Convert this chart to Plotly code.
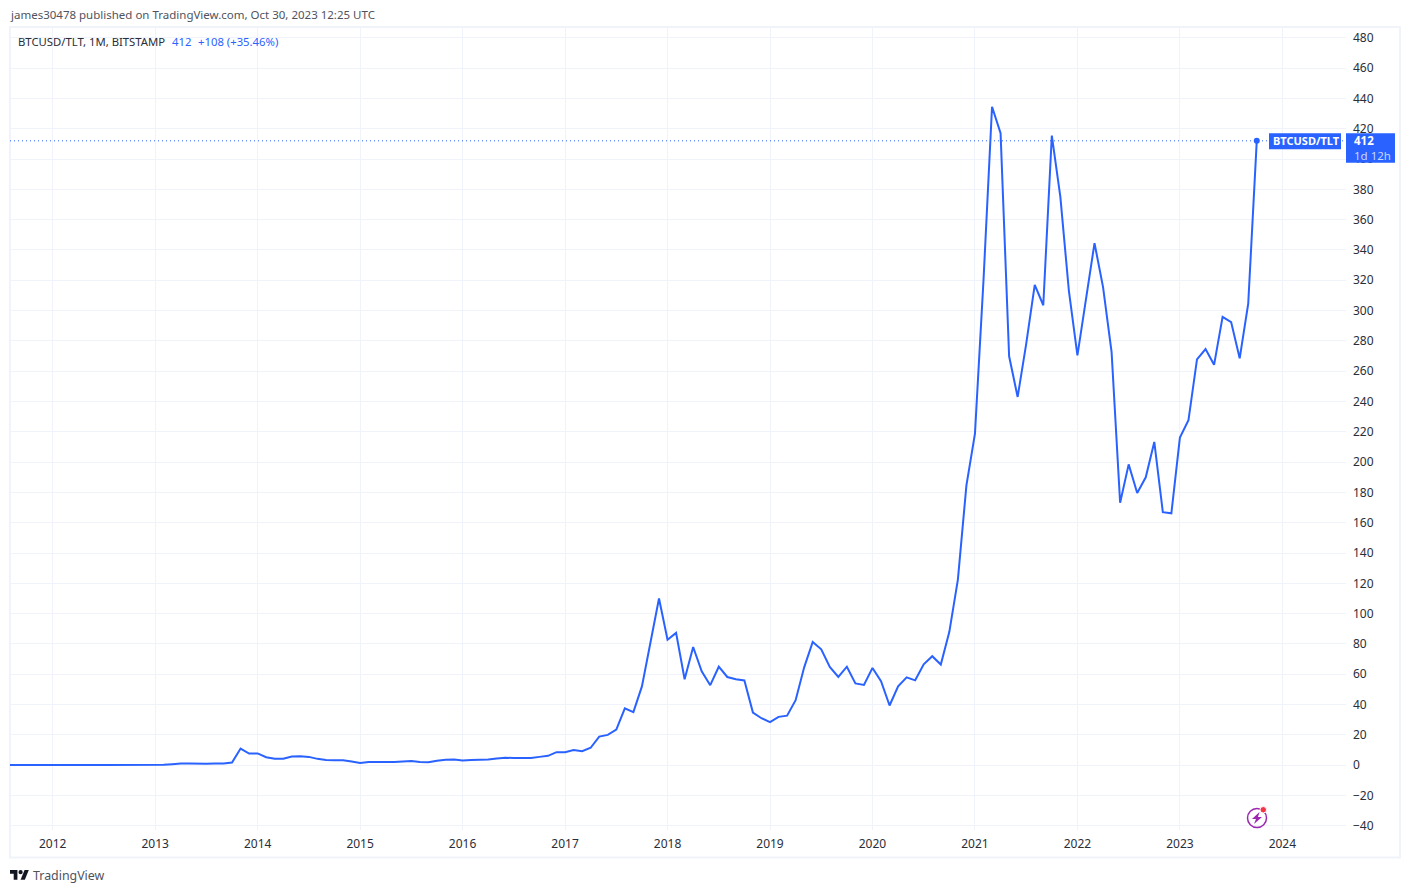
import plotly.graph_objects as go

WIDTH = 1410
HEIGHT = 893
BLUE = "#2962FF"
GRID = "#F0F3FA"
FONT = "Noto Sans"

# monthly closes, Aug 2011 to Oct 2023
btc_tlt = [
    0.1, 0.05, 0.03, 0.03, 0.04,
    0.05, 0.05, 0.05, 0.04, 0.05, 0.06, 0.07, 0.09, 0.09, 0.1, 0.1, 0.13,
    0.2, 0.3, 0.7, 1.2, 1.2, 0.9, 0.9, 1.2, 1.2, 1.8, 11, 7.7,
    7.8, 5.3, 4.3, 4.3, 5.8, 5.9, 5.5, 4.2, 3.4, 3.2, 3.2, 2.5,
    1.5, 2.1, 2.1, 2.0, 2.1, 2.5, 2.8, 2.1, 2.0, 3, 3.6, 3.7,
    3.1, 3.4, 3.4, 3.7, 4.4, 5.0, 4.7, 4.5, 4.7, 5.5, 6.2, 8.6,
    8.6, 10, 9.3, 11.5, 18.9, 20, 23.5, 37.5, 35, 52, 81, 110,
    82.8, 87.3, 56.7, 78, 62, 52.8, 65, 58.2, 56.7, 55.9, 34.7, 31,
    28.4, 31.9, 32.7, 42.9, 64.6, 81.3, 76.5, 64.9, 58.3, 65, 54, 53,
    64.2, 55.4, 39.4, 52, 58, 56, 66.6, 71.9, 66.4, 88, 122.5, 184.7,
    218.8, 320, 434.5, 417, 269.8, 243, 278, 317, 303.5, 415.5, 375, 313,
    270.4, 309, 344.5, 315.5, 272.6, 173.2, 198.5, 179.6, 190, 213.3, 167, 166.2,
    216.2, 227.6, 267.8, 274.6, 264.2, 295.9, 292.4, 268.5, 304.5, 412,
]
# bars are evenly spaced, so x is just the month count from Aug 2011
month_pos = list(range(len(btc_tlt)))
years = list(range(2012, 2025))
year_pos = [(y - 2011) * 12 - 7 for y in years]
y_ticks = list(range(-40, 500, 20))

last = btc_tlt[-1]

# plot area in page pixels
left, right, top, bottom = 10, 1346, 28, 830


def px(x):
    return (x - left) / (right - left)


def py(y):
    return (bottom - y) / (bottom - top)


def path(points):
    return "M" + " L".join(f"{px(x):.5f},{py(y):.5f}" for x, y in points) + " Z"


def text(x, y, s, size=11.3, color="#50535E"):
    return dict(xref="paper", yref="paper", x=px(x), y=py(y), text=s, showarrow=False,
                xanchor="left", yanchor="middle", font=dict(family=FONT, size=size, color=color))


def price_text(x, shift, s, color="white", size=11.5):
    return dict(xref="paper", yref="y", x=px(x), y=last, yshift=shift, text=s, showarrow=False,
                xanchor="left", yanchor="middle", font=dict(family=FONT, size=size, color=color))


def price_box(x0, x1, up, down):
    return dict(type="rect", xref="paper", yref="y", ysizemode="pixel", yanchor=last,
                x0=px(x0), x1=px(x1), y0=-down, y1=up, fillcolor=BLUE, line_width=0)


fig = go.Figure()
fig.add_trace(go.Scatter(x=month_pos, y=btc_tlt, mode="lines", line=dict(color=BLUE, width=2), hoverinfo="skip"))
fig.add_trace(go.Scatter(x=month_pos[-1:], y=btc_tlt[-1:], mode="markers", marker=dict(color=BLUE, size=6), hoverinfo="skip"))

# frame, price line, logo and the little bolt icon
tv = 0.53
shapes = [
    dict(type="rect", xref="paper", yref="paper", x0=px(10), x1=px(1400), y0=py(27), y1=py(857.5),
         line=dict(color=GRID, width=2), layer="below"),
    dict(type="line", xref="paper", yref="y", x0=0, x1=1, y0=last, y1=last,
         line=dict(color=BLUE, width=1, dash="1px,3px")),
    price_box(1269, 1341, 7.5, 8.5),
    price_box(1346, 1395, 7.5, 22),
    dict(type="path", xref="paper", yref="paper", fillcolor="#131722", line_width=0,
         path=path([(10 + a * tv, 868 + b * tv) for a, b in [(0, 4), (14, 4), (14, 22), (7, 22), (7, 11), (0, 11)]])),
    dict(type="path", xref="paper", yref="paper", fillcolor="#131722", line_width=0,
         path=path([(10 + a * tv, 868 + b * tv) for a, b in [(27.5, 4), (35.5, 4), (28, 22), (20, 22)]])),
    dict(type="circle", xref="paper", yref="paper", fillcolor="#131722", line_width=0,
         x0=px(10 + 16 * tv), x1=px(10 + 24 * tv), y0=py(868 + 4 * tv), y1=py(868 + 12 * tv)),
    dict(type="circle", xref="paper", yref="paper", line=dict(color="#9C27B0", width=1.5),
         x0=px(1247.5), x1=px(1266.5), y0=py(808.5), y1=py(827.5)),
    dict(type="path", xref="paper", yref="paper", fillcolor="#9C27B0", line_width=0,
         path=path([(1259.5, 812), (1252, 819), (1256, 819), (1254, 824), (1262, 817), (1258, 817)])),
    dict(type="circle", xref="paper", yref="paper", fillcolor="#F23645", line=dict(color="white", width=1),
         x0=px(1260), x1=px(1266.5), y0=py(806.5), y1=py(813)),
]

annotations = [
    text(7.5, 14.5, "james30478 published on TradingView.com, Oct 30, 2023 12:25 UTC", size=11.5),
    text(16, 41.5, "BTCUSD/TLT, 1M, BITSTAMP", color="#2A2E39"),
    text(170, 41.5, f"{last}", color=BLUE),
    text(196, 41.5, "+108 (+35.46%)", color=BLUE),
    text(30.5, 875.5, "TradingView", size=12.4),
    # last value labels, tied to the price
    price_text(1270.5, 0, "<b>BTCUSD/TLT</b>", size=11),
    price_text(1352, 0, f"<b>{last}</b>"),
    price_text(1352, -14.5, "1d 12h", color="#C9D6FF"),
]

fig.update_layout(
    width=WIDTH,
    height=HEIGHT,
    margin=dict(l=left, r=WIDTH - right, t=top, b=HEIGHT - bottom, pad=0),
    paper_bgcolor="white",
    plot_bgcolor="white",
    showlegend=False,
    shapes=shapes,
    annotations=annotations,
    font=dict(family=FONT, size=12, color="#2A2E39"),
    xaxis=dict(
        range=[0, 156.45],
        tickmode="array",
        tickvals=year_pos,
        ticktext=[str(y) for y in years],
        showgrid=True,
        gridcolor=GRID,
        gridwidth=1,
        zeroline=False,
        showline=False,
        ticks="",
        ticklabelstandoff=5,
    ),
    yaxis=dict(
        side="right",
        range=[-42.75, 486.45],
        tickmode="array",
        tickvals=y_ticks,
        showgrid=True,
        gridcolor=GRID,
        gridwidth=1,
        zeroline=False,
        showline=False,
        ticks="",
        ticklabelstandoff=6,
    ),
)

fig.write_html("out.html", config=dict(displayModeBar=False), post_script="document.body.style.margin='0';")
